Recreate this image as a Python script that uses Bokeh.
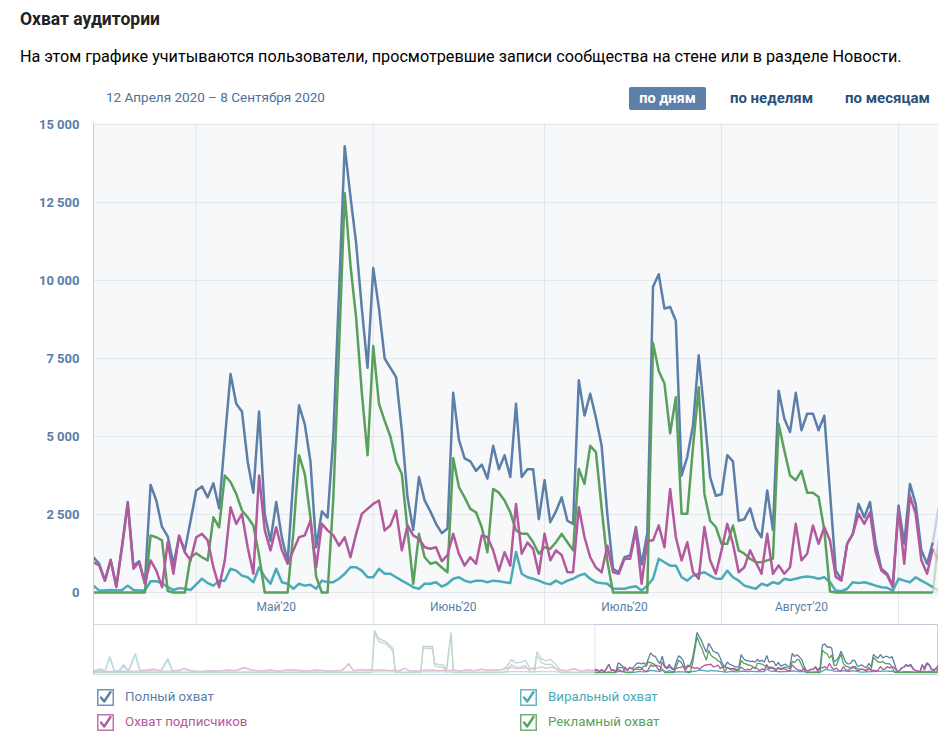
from datetime import date
from bokeh.plotting import figure
from bokeh.layouts import column
from bokeh.models import Div, FixedTicker, BoxAnnotation, Range1d
from bokeh.core.properties import value
from bokeh.embed import file_html
from bokeh.resources import INLINE

# ---------------- data ----------------
start = date(2020, 4, 13)

total = [1130, 920, 380, 1050, 200, 1500, 2900, 850, 1000, 300,
         3450, 2950, 2100, 1800, 900, 1800, 1350, 2300, 3270, 3400,
         3050, 3500, 2700, 4900, 7000, 6050, 5800, 4200, 3200, 5800,
         2500, 1650, 2900, 1750, 1000, 3600, 6000, 5400, 4200, 1450,
         2600, 2400, 5000, 9600, 14300, 12700, 11200, 9100, 7200, 10400,
         9100, 7500, 7200, 6900, 5200, 3050, 2000, 3700, 2950, 2600,
         2200, 1900, 2050, 6400, 4900, 4300, 4200, 3900, 4100, 3650,
         4700, 3950, 4400, 3700, 6050, 3700, 3950, 3950, 2350, 3600,
         2250, 2600, 3050, 2300, 2200, 6800, 5670, 6370, 5600, 4700,
         2500, 760, 650, 1130, 1190, 2100, 900, 1900, 9800, 10200,
         9100, 9150, 8700, 3750, 4350, 5350, 7600, 5700, 3700, 3100,
         3150, 4400, 4200, 2300, 2350, 2700, 2050, 1770, 3270, 2000,
         6470, 5570, 5140, 6400, 5200, 5730, 5730, 5200, 5670, 3200,
         700, 420, 1560, 1880, 2840, 2410, 2900, 1560, 760, 600,
         220, 2790, 1560, 3480, 2840, 1350, 920, 1600, 2700]

subs = [970, 870, 380, 1030, 170, 1450, 2840, 760, 970, 280,
        1030, 700, 170, 1610, 600, 1830, 1290, 1030, 1770, 1880,
        1670, 810, 170, 1030, 2730, 2200, 2520, 1450, 600, 3750,
        1990, 1350, 2090, 1350, 920, 1350, 1770, 1830, 2300, 810,
        2200, 1990, 1830, 1500, 1770, 1130, 1880, 2520, 2680, 2840,
        2950, 1990, 2150, 2630, 1350, 2150, 1830, 1720, 1450, 1400,
        1450, 1000, 1200, 1880, 1240, 860, 1130, 920, 1830, 1770,
        1350, 700, 1290, 860, 2840, 1240, 1600, 1400, 600, 1880,
        1030, 1350, 1200, 650, 650, 2730, 1770, 1130, 800, 650,
        1500, 650, 600, 1080, 1080, 1990, 280, 1670, 1670, 2150,
        1450, 3320, 1770, 1030, 1610, 650, 440, 2100, 1030, 600,
        1350, 2200, 1560, 650, 810, 1350, 970, 600, 1880, 600,
        870, 600, 810, 2200, 1030, 1240, 2150, 1560, 2090, 1670,
        500, 380, 1560, 1880, 2520, 2200, 2570, 1290, 700, 550,
        170, 2680, 920, 3100, 2520, 1030, 600, 1400, 1000]

viral = [220, 60, 60, 80, 60, 80, 220, 80, 60, 60,
         360, 360, 300, 170, 80, 140, 120, 80, 260, 440,
         300, 220, 380, 380, 760, 700, 540, 490, 330, 810,
         500, 280, 760, 330, 280, 120, 280, 220, 250, 120,
         380, 330, 330, 440, 600, 810, 810, 700, 490, 490,
         760, 600, 600, 490, 380, 280, 170, 120, 280, 280,
         330, 190, 280, 440, 490, 380, 330, 380, 380, 330,
         380, 360, 330, 300, 1300, 600, 490, 440, 380, 300,
         260, 380, 280, 380, 440, 540, 600, 440, 330, 300,
         280, 120, 120, 120, 170, 200, 60, 220, 440, 1080,
         970, 860, 860, 490, 380, 540, 600, 650, 540, 440,
         440, 700, 490, 380, 220, 170, 120, 280, 220, 330,
         280, 440, 400, 440, 490, 510, 490, 440, 490, 330,
         60, 40, 120, 330, 300, 330, 280, 220, 170, 150,
         60, 440, 380, 330, 490, 380, 280, 170, 60]

ads = [0, 0, 0, 0, 0, 0, 0, 0, 0, 0,
       1830, 1770, 1670, 50, 0, 0, 0, 1130, 1260, 1130,
       1030, 2410, 2090, 3750, 3540, 3160, 2630, 2410, 2150, 1190,
       0, 0, 0, 0, 0, 1900, 4400, 3800, 2400, 500,
       0, 0, 3000, 7800, 12800, 10500, 8800, 6400, 4400, 7900,
       6050, 5500, 5000, 4200, 3800, 2000, 280, 1880, 1130, 920,
       970, 800, 650, 4300, 3380, 3050, 2680, 2570, 2090, 1290,
       3320, 3200, 2950, 2570, 1990, 1880, 1880, 1610, 1240, 1450,
       1400, 1610, 1880, 1610, 1350, 3960, 3480, 4700, 4500, 2700,
       1000, 0, 0, 0, 0, 0, 0, 0, 8000, 7100,
       6700, 5100, 6260, 2520, 2520, 4660, 6580, 3160, 2300, 2100,
       1560, 1560, 2150, 1350, 1240, 1080, 970, 970, 1030, 1080,
       5400, 4550, 3750, 3600, 3900, 3200, 3200, 3060, 2000, 30,
       0, 0, 0, 0, 0, 0, 0, 0, 0, 0,
       0, 0, 0, 0, 0, 0, 0, 0, 1670]

# earlier history shown only in the navigator (days before start)
early_days = [-216, -213, -211, -209, -207, -205, -203, -201, -198, -196,
              -193, -190, -187, -184, -182, -179, -177, -174, -170, -166,
              -162, -158, -155, -151, -148, -144, -140, -136, -132, -128,
              -124, -120, -116, -112, -109, -106, -104, -101, -98, -96,
              -95, -93, -90, -88, -87, -86, -84, -82, -80, -77,
              -75, -74, -72, -70, -69, -67, -65, -64, -62, -61,
              -58, -55, -52, -49, -46, -43, -40, -38, -36, -34,
              -32, -30, -28, -26, -25, -23, -21, -19, -17, -15,
              -12, -9, -6, -3, -1]
early_total = [700, 1300, 600, 5700, 700, 600, 2800, 600, 6800, 800,
               900, 1200, 700, 5000, 700, 800, 1400, 700, 400, 700,
               600, 900, 700, 1800, 900, 600, 900, 500, 1000, 800,
               600, 900, 700, 500, 800, 3200, 700, 1100, 900, 1000,
               15000, 12000, 11000, 9500, 8500, 800, 700, 1600, 700, 600,
               600, 9400, 9200, 9300, 3200, 2800, 2600, 700, 14300, 900,
               600, 1000, 700, 1200, 800, 900, 1100, 2000, 4600, 3400,
               3600, 4300, 1600, 1500, 7500, 4800, 4200, 4600, 3000, 900,
               700, 1400, 600, 900, 700]
early_subs = [300, 400, 300, 400, 400, 400, 500, 400, 500, 500,
              700, 1000, 500, 500, 500, 700, 1300, 600, 300, 600,
              500, 800, 600, 1600, 800, 500, 800, 400, 900, 700,
              500, 800, 600, 400, 700, 3000, 600, 1000, 800, 900,
              800, 900, 800, 700, 800, 700, 600, 1500, 600, 500,
              500, 900, 800, 900, 800, 700, 800, 600, 800, 800,
              500, 900, 600, 1100, 700, 800, 1000, 1500, 1800, 1400,
              1500, 1700, 1200, 1200, 1600, 2000, 1500, 1900, 1500, 800,
              600, 1300, 500, 800, 600]
early_viral = [400, 900, 300, 5300, 300, 200, 2300, 200, 6300, 300,
               200, 200, 200, 4500, 200, 100, 100, 100, 100, 100,
               100, 100, 100, 200, 100, 100, 100, 100, 100, 100,
               100, 100, 100, 100, 100, 200, 100, 100, 100, 100,
               200, 200, 200, 200, 200, 100, 100, 100, 100, 100,
               100, 200, 200, 200, 200, 200, 200, 100, 200, 100,
               100, 100, 100, 100, 100, 100, 100, 200, 300, 300,
               300, 300, 200, 200, 300, 300, 300, 300, 300, 100,
               100, 100, 100, 100, 100]
early_ads = [0, 0, 0, 0, 0, 0, 0, 0, 0, 0,
             0, 0, 0, 0, 0, 0, 0, 0, 0, 0,
             0, 0, 0, 0, 0, 0, 0, 0, 0, 0,
             0, 0, 0, 0, 0, 0, 0, 0, 0, 0,
             14000, 11000, 10200, 8600, 7600, 0, 0, 0, 0, 0,
             0, 8800, 8500, 8600, 2300, 2000, 1700, 0, 13400, 0,
             0, 0, 0, 0, 0, 0, 0, 400, 2800, 1900,
             2000, 2500, 300, 100, 6000, 3500, 2800, 3000, 1500, 0,
             0, 0, 0, 0, 0]

y_ticks = [0, 2500, 5000, 7500, 10000, 12500, 15000]
y_labels = ["0", "2 500", "5 000", "7 500", "10 000", "12 500", "15 000"]
month_starts = [date(2020, 5, 1), date(2020, 6, 1), date(2020, 7, 1), date(2020, 8, 1), date(2020, 9, 1)]
label_dates = [date(2020, 5, 15), date(2020, 6, 15), date(2020, 7, 15), date(2020, 8, 15)]
month_labels = ["Май'20", "Июнь'20", "Июль'20", "Август'20"]

series_names = ["Полный охват", "Охват подписчиков", "Виральный охват", "Рекламный охват"]

# ---------------- styles ----------------
C_TOTAL = "#5b7fa8"
C_SUBS = "#b35a9e"
C_VIRAL = "#4aaab7"
C_ADS = "#59a05d"
AXIS_TXT = "#5a7da5"
FONT = "Roboto"

days = list(range(len(total)))
last = len(total) - 1
grid_x = [(d - start).days for d in month_starts]
label_x = [(d - start).days for d in label_dates]

Y_MIN, Y_MAX = -1026, 15064
PLOT_FLOOR = -192
LABEL_Y = -480

# ---------------- header ----------------
header = Div(width=930, height=104, margin=0, text=f"""
<div style="position:relative;width:930px;height:104px;font-family:{FONT};">
  <div style="position:absolute;left:12px;top:1px;line-height:20px;font-size:17.5px;font-weight:bold;color:#222;white-space:nowrap;">Охват аудитории</div>
  <div style="position:absolute;left:12px;top:39px;line-height:20px;font-size:16.2px;color:#000;white-space:nowrap;">На этом графике учитываются пользователи, просмотревшие записи сообщества на стене или в разделе Новости.</div>
  <div style="position:absolute;left:98px;top:80px;line-height:18px;font-size:13.5px;color:#4f7098;white-space:nowrap;">12 Апреля 2020 – 8 Сентября 2020</div>
  <div style="position:absolute;left:621px;top:79px;width:77px;height:23px;line-height:23px;background:#5d80a8;border-radius:2px;color:#fff;font-size:14.5px;font-weight:bold;text-align:center;white-space:nowrap;">по дням</div>
  <div style="position:absolute;left:717px;top:79px;width:93px;height:23px;line-height:23px;color:#2b5079;font-size:15px;font-weight:bold;text-align:center;white-space:nowrap;">по неделям</div>
  <div style="position:absolute;left:833px;top:79px;width:93px;height:23px;line-height:23px;color:#2b5079;font-size:15px;font-weight:bold;text-align:center;white-space:nowrap;">по месяцам</div>
</div>
""")

# ---------------- main chart ----------------
p = figure(width=930, height=512, x_range=Range1d(0, last), y_range=Range1d(Y_MIN, Y_MAX),
           x_axis_location=None, output_backend="svg", toolbar_location=None,
           min_border_left=85, min_border_right=0, min_border_top=10, min_border_bottom=0)
p.xgrid.visible = False
p.ygrid.visible = False
p.outline_line_color = None
p.background_fill_color = "white"
p.border_fill_color = "white"

p.yaxis.ticker = FixedTicker(ticks=y_ticks)
p.yaxis.major_label_overrides = {t: l for t, l in zip(y_ticks, y_labels)}
p.yaxis.axis_line_color = "#c6d0dc"
p.yaxis.major_tick_line_color = None
p.yaxis.minor_tick_line_color = None
p.yaxis.major_label_standoff = 8
p.yaxis.major_label_text_font = FONT
p.yaxis.major_label_text_font_size = "13px"
p.yaxis.major_label_text_font_style = "bold"
p.yaxis.major_label_text_color = AXIS_TXT

p.quad(left=0, right=last, bottom=PLOT_FLOOR, top=Y_MAX, fill_color="#f7f8fa", line_color=None)
p.segment(x0=[0] * len(y_ticks), x1=[last] * len(y_ticks), y0=y_ticks, y1=y_ticks,
          line_color="#e4e8ee", line_width=1)
p.segment(x0=grid_x, x1=grid_x, y0=[Y_MIN] * len(grid_x), y1=[Y_MAX] * len(grid_x),
          line_color="#e0e5ec", line_width=1)

p.text(x=label_x, y=[LABEL_Y] * len(label_x), text=month_labels, text_align="center",
       text_baseline="middle", text_font=value(FONT), text_font_size="12px",
       text_color=AXIS_TXT)

for ser, col in [(total, C_TOTAL), (viral, C_VIRAL), (ads, C_ADS), (subs, C_SUBS)]:
    p.line(days[:last], ser[:last], line_color=col, line_width=2.5, line_join="round")
    p.line(days[last - 1:], ser[last - 1:], line_color=col, line_width=2.5, line_alpha=0.3)

# ---------------- navigator ----------------
nav_days = early_days + days
nav = figure(width=930, height=52, x_range=Range1d(-216, last), y_range=Range1d(-714, 17140),
             x_axis_location=None, y_axis_location=None, output_backend="svg", toolbar_location=None,
             min_border_left=85, min_border_right=0, min_border_top=0, min_border_bottom=2)
nav.grid.visible = False
nav.outline_line_color = "#c8d2dd"
nav.background_fill_color = "white"
nav.border_fill_color = "white"
for ser_e, ser, col in [(early_total, total, C_TOTAL), (early_viral, viral, C_VIRAL),
                        (early_ads, ads, C_ADS), (early_subs, subs, C_SUBS)]:
    nav.line(nav_days, ser_e + ser, line_color=col, line_width=1.3)
nav.add_layout(BoxAnnotation(right=0, fill_color="white", fill_alpha=0.62, line_alpha=0))
nav.add_layout(BoxAnnotation(left=0, right=last, fill_alpha=0, line_color="#97aabf", line_width=1))

# ---------------- legend ----------------
def checkbox(color, left, top):
    return (f'<svg width="17" height="17" viewBox="0 0 17 17" style="position:absolute;left:{left}px;top:{top}px">'
            f'<rect x="0.75" y="0.75" width="15.5" height="15.5" fill="white" stroke="{color}" stroke-opacity="0.85" stroke-width="1.5"/>'
            f'<path d="M4 8.5 L7.2 12.5 L13.5 3" fill="none" stroke="{color}" stroke-width="2.4" stroke-linecap="round" stroke-linejoin="round"/></svg>')

legend_items = [(series_names[0], C_TOTAL, 89, 13), (series_names[1], C_SUBS, 89, 38),
                (series_names[2], C_VIRAL, 512, 13), (series_names[3], C_ADS, 512, 38)]
leg_html = f'<div style="position:relative;width:930px;height:52px;font-family:{FONT};">'
for name, col, lx, ty in legend_items:
    leg_html += checkbox(col, lx, ty)
    leg_html += (f'<div style="position:absolute;left:{lx + 28}px;top:{ty - 1}px;line-height:18px;'
                 f'font-size:13.3px;color:{col};white-space:nowrap;">{name}</div>')
leg_html += '</div>'
legend = Div(width=930, height=52, margin=0, text=leg_html)

layout = column(header, p, nav, legend, spacing=0, margin=(8, 0, 0, 8))
open("out.html", "w", encoding="utf-8").write(file_html(layout, INLINE, title="Охват аудитории"))
